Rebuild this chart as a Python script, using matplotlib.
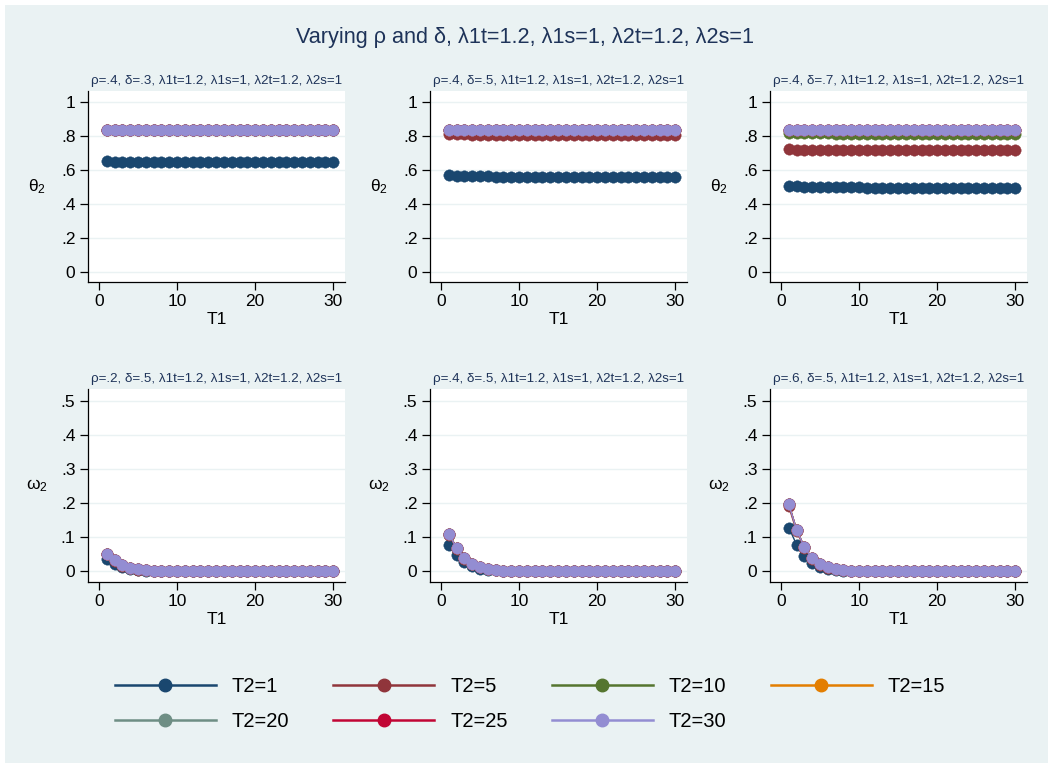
import matplotlib
matplotlib.use("Agg")
import matplotlib.pyplot as plt
from matplotlib.lines import Line2D
from matplotlib.patches import Rectangle
from matplotlib.ticker import FuncFormatter

plt.rcParams["font.family"] = ["Liberation Sans", "DejaVu Sans"]
plt.rcParams["mathtext.fontset"] = "custom"
plt.rcParams["mathtext.rm"] = "Liberation Sans"
plt.rcParams["mathtext.it"] = "Liberation Sans"

# ── data ─────────────────────────────────────────────────────
T1 = list(range(1, 31))
T2_LEVELS = [1, 5, 10, 15, 20, 25, 30]
COLORS = ["#1a476f", "#90353b", "#55752f", "#e37e00", "#6e8e84", "#c10534", "#938dd2"]

# theta_2, top row (rho=.4, delta varies)
theta_upper = [0.833, 0.833, 0.833, 0.833, 0.833, 0.833, 0.833, 0.833, 0.833, 0.833,
               0.833, 0.833, 0.833, 0.833, 0.833, 0.833, 0.833, 0.833, 0.833, 0.833,
               0.833, 0.833, 0.833, 0.833, 0.833, 0.833, 0.833, 0.833, 0.833, 0.833]
theta_d3_t1 = [0.649, 0.648, 0.648, 0.647, 0.647, 0.647, 0.647, 0.646, 0.646, 0.646,
               0.646, 0.646, 0.646, 0.646, 0.646, 0.646, 0.646, 0.645, 0.645, 0.645,
               0.645, 0.645, 0.645, 0.645, 0.645, 0.645, 0.645, 0.645, 0.645, 0.645]
theta_d5_t1 = [0.569, 0.565, 0.563, 0.562, 0.561, 0.561, 0.560, 0.560, 0.560, 0.559,
               0.559, 0.559, 0.559, 0.559, 0.558, 0.558, 0.558, 0.558, 0.558, 0.558,
               0.558, 0.558, 0.558, 0.557, 0.557, 0.557, 0.557, 0.557, 0.557, 0.557]
theta_d5_t5 = [0.809, 0.808, 0.808, 0.807, 0.807, 0.807, 0.807, 0.807, 0.807, 0.807,
               0.806, 0.806, 0.806, 0.806, 0.806, 0.806, 0.806, 0.806, 0.806, 0.806,
               0.806, 0.806, 0.806, 0.806, 0.806, 0.806, 0.806, 0.806, 0.806, 0.806]
theta_d7_t1 = [0.506, 0.502, 0.500, 0.499, 0.498, 0.497, 0.497, 0.496, 0.496, 0.496,
               0.495, 0.495, 0.495, 0.495, 0.495, 0.495, 0.494, 0.494, 0.494, 0.494,
               0.494, 0.494, 0.494, 0.494, 0.494, 0.494, 0.494, 0.494, 0.494, 0.494]
theta_d7_t5 = [0.722, 0.719, 0.718, 0.717, 0.716, 0.716, 0.716, 0.715, 0.715, 0.715,
               0.715, 0.715, 0.715, 0.715, 0.714, 0.714, 0.714, 0.714, 0.714, 0.714,
               0.714, 0.714, 0.714, 0.714, 0.714, 0.714, 0.714, 0.714, 0.714, 0.714]
theta_d7_t10 = [0.815, 0.814, 0.814, 0.814, 0.814, 0.814, 0.813, 0.813, 0.813, 0.813,
                0.813, 0.813, 0.813, 0.813, 0.813, 0.813, 0.813, 0.813, 0.813, 0.813,
                0.813, 0.813, 0.813, 0.813, 0.813, 0.813, 0.813, 0.813, 0.813, 0.813]

# omega_2, bottom row (delta=.5, rho varies)
omega_r2_t1 = [0.035, 0.021, 0.011, 0.006, 0.003, 0.0015, 0.0008, 0.0004, 0.0002, 0.0001,
               0, 0, 0, 0, 0, 0, 0, 0, 0, 0, 0, 0, 0, 0, 0, 0, 0, 0, 0, 0]
omega_r2_t5 = [0.049, 0.030, 0.016, 0.008, 0.004, 0.002, 0.001, 0.0005, 0.0003, 0.0001,
               0, 0, 0, 0, 0, 0, 0, 0, 0, 0, 0, 0, 0, 0, 0, 0, 0, 0, 0, 0]
omega_r2_up = [0.051, 0.032, 0.017, 0.009, 0.005, 0.0025, 0.0013, 0.0006, 0.0003, 0.0002,
               0.0001, 0, 0, 0, 0, 0, 0, 0, 0, 0, 0, 0, 0, 0, 0, 0, 0, 0, 0, 0]
omega_r4_t1 = [0.077, 0.046, 0.026, 0.014, 0.007, 0.004, 0.002, 0.001, 0.0005, 0.0003,
               0.0001, 0, 0, 0, 0, 0, 0, 0, 0, 0, 0, 0, 0, 0, 0, 0, 0, 0, 0, 0]
omega_r4_t5 = [0.107, 0.066, 0.037, 0.020, 0.011, 0.006, 0.003, 0.0015, 0.0008, 0.0004,
               0.0002, 0.0001, 0, 0, 0, 0, 0, 0, 0, 0, 0, 0, 0, 0, 0, 0, 0, 0, 0, 0]
omega_r4_up = [0.110, 0.068, 0.038, 0.021, 0.012, 0.006, 0.003, 0.0016, 0.0008, 0.0004,
               0.0002, 0.0001, 0, 0, 0, 0, 0, 0, 0, 0, 0, 0, 0, 0, 0, 0, 0, 0, 0, 0]
omega_r6_t1 = [0.128, 0.078, 0.044, 0.023, 0.012, 0.006, 0.003, 0.0016, 0.0008, 0.0004,
               0.0002, 0.0001, 0, 0, 0, 0, 0, 0, 0, 0, 0, 0, 0, 0, 0, 0, 0, 0, 0, 0]
omega_r6_t5 = [0.190, 0.117, 0.067, 0.036, 0.019, 0.010, 0.005, 0.0026, 0.0013, 0.0007,
               0.0003, 0.0002, 0.0001, 0, 0, 0, 0, 0, 0, 0, 0, 0, 0, 0, 0, 0, 0, 0, 0, 0]
omega_r6_up = [0.197, 0.122, 0.070, 0.038, 0.020, 0.011, 0.006, 0.003, 0.0015, 0.0008,
               0.0004, 0.0002, 0.0001, 0, 0, 0, 0, 0, 0, 0, 0, 0, 0, 0, 0, 0, 0, 0, 0, 0]

LAM = "λ1t=1.2, λ1s=1, λ2t=1.2, λ2s=1"
TOP_TITLES = [f"ρ=.4, δ=.3, {LAM}", f"ρ=.4, δ=.5, {LAM}", f"ρ=.4, δ=.7, {LAM}"]
BOT_TITLES = [f"ρ=.2, δ=.5, {LAM}", f"ρ=.4, δ=.5, {LAM}", f"ρ=.6, δ=.5, {LAM}"]

TOP_SERIES = [
    [theta_d3_t1] + [theta_upper] * 6,
    [theta_d5_t1, theta_d5_t5] + [theta_upper] * 5,
    [theta_d7_t1, theta_d7_t5, theta_d7_t10] + [theta_upper] * 4,
]
BOT_SERIES = [
    [omega_r2_t1, omega_r2_t5] + [omega_r2_up] * 5,
    [omega_r4_t1, omega_r4_t5] + [omega_r4_up] * 5,
    [omega_r6_t1, omega_r6_t5] + [omega_r6_up] * 5,
]

BG = "#eaf2f3"
TXT = "#1e3359"
W, H = 1050, 766


def px_axes(fig, left, top, right, bottom):
    return fig.add_axes([left / W, 1 - bottom / H, (right - left) / W, (bottom - top) / H])


def stata_fmt(v, _):
    if abs(v) < 1e-9:
        return "0"
    if abs(v - round(v)) < 1e-9:
        return f"{int(round(v))}"
    return f"{v:.1f}".lstrip("0")


def draw_panel(ax, series, title, ylab, ylim, yticks):
    ax.set_facecolor("white")
    for ys, c in zip(series, COLORS):
        ax.plot(T1, ys, color=c, lw=1.0, marker="o", ms=8.2, mec=c, mew=0.3, zorder=3)
    ax.set_xlim(-1.4, 31.5)
    ax.set_ylim(*ylim)
    ax.set_xticks([0, 10, 20, 30])
    ax.set_yticks(yticks)
    ax.yaxis.set_major_formatter(FuncFormatter(stata_fmt))
    ax.grid(axis="y", color=BG, lw=1.0, zorder=0)
    for s in ("top", "right"):
        ax.spines[s].set_visible(False)
    for s in ("left", "bottom"):
        ax.spines[s].set_color("black")
        ax.spines[s].set_linewidth(0.9)
    ax.tick_params(length=6, width=0.9, labelsize=12.5, pad=3)
    ax.set_xlabel("T1", fontsize=12.5, labelpad=2)
    ax.set_ylabel(ylab, fontsize=12.5, rotation=0, ha="center", va="center", labelpad=17)
    ax.set_title(title, fontsize=9.6, color=TXT, pad=5)


fig = plt.figure(figsize=(W / 100, H / 100), dpi=100, facecolor="white")
fig.patches.append(Rectangle((5 / W, 3 / H), 1043 / W, 758 / H, transform=fig.transFigure,
                             facecolor=BG, edgecolor="none", zorder=-1))

lefts = [88, 430, 770]
for i, l in enumerate(lefts):
    ax = px_axes(fig, l, 91, l + 257, 282)
    draw_panel(ax, TOP_SERIES[i], TOP_TITLES[i], "θ$_2$", (-0.06, 1.063),
               [0, 0.2, 0.4, 0.6, 0.8, 1.0])
    ax = px_axes(fig, l, 389, l + 257, 582)
    draw_panel(ax, BOT_SERIES[i], BOT_TITLES[i], "ω$_2$", (-0.032, 0.535),
               [0, 0.1, 0.2, 0.3, 0.4, 0.5])

fig.text(0.5, 1 - 37 / H, "Varying ρ and δ, λ1t=1.2, λ1s=1, λ2t=1.2, λ2s=1",
         ha="center", va="center", fontsize=15.6, color=TXT)

handles = [Line2D([], [], color=c, lw=1.8, marker="o", ms=9, mec=c) for c in COLORS]
labels = [f"T2={t}" for t in T2_LEVELS]
order = [0, 4, 1, 5, 2, 6, 3]
fig.legend([handles[k] for k in order], [labels[k] for k in order], ncol=4,
           loc="center", bbox_to_anchor=(530 / W, 1 - 704 / H), frameon=False,
           fontsize=14.5, handlelength=5, handletextpad=0.8, columnspacing=2.2,
           labelspacing=0.78)

fig.savefig("out.png", dpi=100, facecolor="white")
